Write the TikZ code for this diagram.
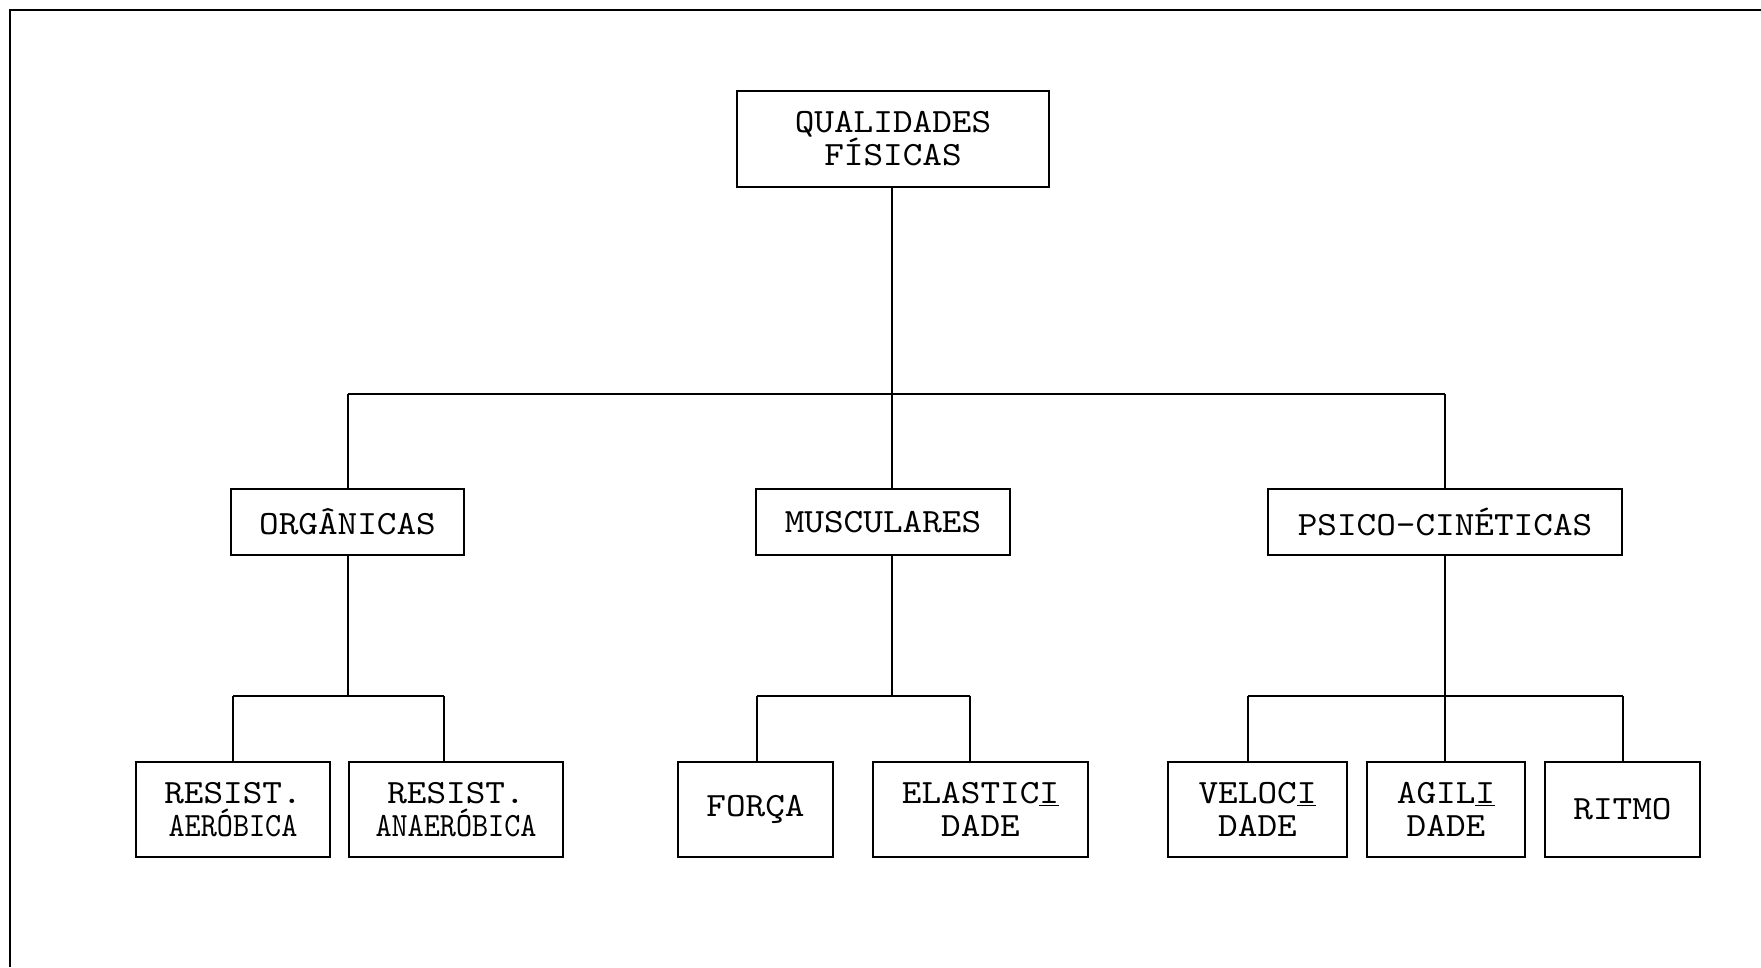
\documentclass[tikz,border=0pt]{standalone}
\usepackage{fontspec}
\newfontfamily\twfont{lmmono10-regular.otf}[FakeStretch=1.1]
\begin{document}
\begin{tikzpicture}[x=1pt,y=-1pt,
  box/.style={draw,line width=1.6pt,rectangle,inner sep=0pt,align=center,
    font=\twfont\fontsize{34}{33}\selectfont},
  lnk/.style={line width=1.6pt}]
\useasboundingbox (0,0) rectangle (1761,967);
\draw[lnk] (10,967) -- (10,10) -- (1761,10);
% nodes
\node[box,minimum width=312pt,minimum height=96pt] (top) at (893,139) {QUALIDADES\\F\'ISICAS};
\node[box,minimum width=233pt,minimum height=66pt] (org) at (347.5,522) {ORG\^ANICAS};
\node[box,minimum width=254pt,minimum height=66pt] (mus) at (883,522) {MUSCULARES};
\node[box,minimum width=354pt,minimum height=66pt] (psi) at (1445,522) {PSICO-CIN\'ETICAS};
\node[box,minimum width=194pt,minimum height=95pt] (aer) at (233,809.5) {RESIST.\\\scalebox{0.82}[1]{AER\'OBICA}};
\node[box,minimum width=214pt,minimum height=95pt] (ana) at (456,809.5) {RESIST.\\\scalebox{0.82}[1]{ANAER\'OBICA}};
\node[box,minimum width=155pt,minimum height=95pt] (for) at (755.5,809.5) {FOR\c{C}A};
\node[box,minimum width=215pt,minimum height=95pt] (ela) at (980.5,809.5) {ELASTIC\underline{I}\\DADE};
\node[box,minimum width=179pt,minimum height=95pt] (vel) at (1257.5,809.5) {VELOC\underline{I}\\DADE};
\node[box,minimum width=158pt,minimum height=95pt] (agi) at (1446,809.5) {AGIL\underline{I}\\DADE};
\node[box,minimum width=155pt,minimum height=95pt] (rit) at (1622.5,809.5) {RITMO};
% bus coordinates
\coordinate (b0) at (892,394);
\coordinate (bL) at (348,394);
\coordinate (bR) at (1445,394);
\coordinate (o) at (348,696);
\coordinate (oL) at (233,696);
\coordinate (oR) at (444,696);
\coordinate (m) at (892,696);
\coordinate (mL) at (757,696);
\coordinate (mR) at (970,696);
\coordinate (p) at (1445,696);
\coordinate (pL) at (1248,696);
\coordinate (pR) at (1623,696);
% connectors
\draw[lnk] (b0 |- top.south) -- (b0);
\draw[lnk] (bL) -- (bR);
\draw[lnk] (bL) -- (bL |- org.north);
\draw[lnk] (b0) -- (b0 |- mus.north);
\draw[lnk] (bR) -- (bR |- psi.north);
\draw[lnk] (o |- org.south) -- (o);
\draw[lnk] (oL) -- (oR);
\draw[lnk] (oL) -- (oL |- aer.north);
\draw[lnk] (oR) -- (oR |- ana.north);
\draw[lnk] (m |- mus.south) -- (m);
\draw[lnk] (mL) -- (mR);
\draw[lnk] (mL) -- (mL |- for.north);
\draw[lnk] (mR) -- (mR |- ela.north);
\draw[lnk] (p |- psi.south) -- (p);
\draw[lnk] (pL) -- (pR);
\draw[lnk] (pL) -- (pL |- vel.north);
\draw[lnk] (p) -- (p |- agi.north);
\draw[lnk] (pR) -- (pR |- rit.north);
\end{tikzpicture}
\end{document}
